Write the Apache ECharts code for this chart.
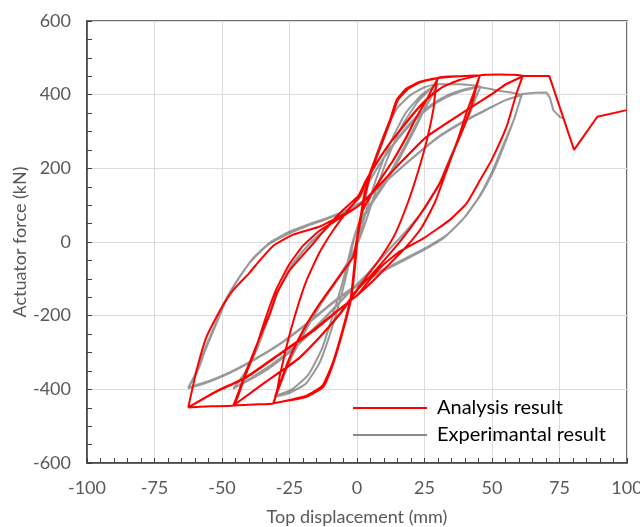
<!DOCTYPE html>
<html>
<head>
<meta charset="utf-8">
<script src="https://cdn.jsdelivr.net/npm/echarts@6/dist/echarts.min.js"></script>
<style>html,body{margin:0;padding:0;background:#fff}#c{width:640px;height:527px}</style>
</head>
<body>
<div id="c"></div>
<script>
// ---- axis ticks ----
const xTicks = [-100, -75, -50, -25, 0, 25, 50, 75, 100];
const yTicks = [-600, -400, -200, 0, 200, 400, 600];

// ---- Analysis result (red) branches [displacement mm, force kN] ----
const anaSkel30 = [[0,0],[1,50],[2.3,114],[4.8,187],[8.5,259],[12.2,331],[14.7,386],[18.4,417],[23.3,435],[30,445]];
const anaDown30a = [[30,445],[28.3,422],[25.8,386],[22.1,340],[18.4,286],[13.5,223],[8.5,168],[4.8,123],[1.7,78],[0.3,20],[-0.4,-40],[-2,-148],[-5.1,-239],[-8.8,-330],[-12.5,-393],[-18.6,-420],[-25,-430],[-31,-438]];
const anaUp30a = [[-31,-438],[-28.5,-383],[-24.8,-311],[-19.9,-239],[-13.7,-166],[-7.5,-103],[-1.4,-40],[0.2,20],[1.2,60],[2.5,114],[5,187],[8.7,259],[12.4,331],[15,384],[18.8,415],[23.6,434],[30,445]];
const anaDown30b = [[30,445],[28,418],[25.5,382],[21.8,336],[18,282],[13.2,220],[8.2,165],[4.5,120],[1.5,75],[0,10],[-0.8,-50],[-2.3,-150],[-5.4,-240],[-9.1,-330],[-12.8,-390],[-18.9,-418],[-25,-429],[-31,-438]];
const anaUp30b = [[-31,-438],[-28.2,-380],[-24.5,-308],[-19.6,-236],[-13.4,-163],[-7.2,-100],[-1.1,-37],[0.4,20],[1.4,62],[2.7,116],[5.2,189],[8.9,261],[12.6,333],[15.2,386],[19,416],[23.8,435],[30,445]];
const anaEnv46 = [[30,445],[38,450],[45.8,453]];
const anaDown46a = [[45.8,453],[38.1,440],[32,422],[27,395],[22.1,358],[17.1,313],[12.2,268],[7.3,214],[3.6,168],[1,125],[-4,80],[-9,30],[-14,-30],[-19,-110],[-23,-200],[-26,-280],[-28.5,-360],[-31,-438],[-38,-441],[-45.8,-444]];
const anaUp46a = [[-45.8,-444],[-34.7,-384],[-22.3,-320],[-13.7,-257],[-6.3,-194],[-0.1,-130],[4,-90],[9,-40],[14,20],[19,110],[23,200],[26,280],[28.3,360],[30,445],[38,450],[45.8,453]];
const anaDown46b = [[45.8,453],[37.6,439],[31.5,420],[26.5,392],[21.6,355],[16.6,310],[11.7,264],[6.8,210],[3.1,164],[0.5,125],[-5,88],[-10,50],[-16.2,-4],[-24.8,-76],[-29.7,-139],[-32.2,-194],[-35.9,-257],[-40.9,-348],[-43.5,-400],[-45.8,-444]];
const anaUp46b = [[-45.8,-444],[-34.2,-382],[-21.8,-318],[-13.2,-254],[-5.8,-191],[0.4,-128],[5,-92],[10,-50],[16.2,4],[22,60],[26.5,110],[30.7,160],[34.4,223],[38.1,286],[41.9,358],[44.3,422],[45.8,453]];
const anaEnv62 = [[45.8,453],[53,455],[61.4,451]];
const anaDown62a = [[61.4,451],[55,428],[50.5,404],[40.6,358],[25.8,286],[13.5,195],[5,130],[0,95],[-7,62],[-14,30],[-20,-10],[-25,-60],[-30,-130],[-34,-210],[-38,-300],[-42,-375],[-45.8,-444],[-54,-446],[-62.5,-449]];
const anaUp62a = [[-62.5,-449],[-52,-405],[-40.9,-366],[-28,-300],[-16.2,-239],[-7,-185],[0,-145],[6,-105],[12,-60],[18,-15],[24,40],[29,110],[33,190],[37,270],[40.5,350],[43.5,410],[45.8,453],[53,455],[61.4,451]];
const anaDown62b = [[61.4,451],[55,427],[50,402],[40,355],[25.5,284],[13.2,193],[5,128],[0,95],[-5,75],[-13.7,42],[-23.6,20],[-31,-10],[-36,-50],[-40,-85],[-45.8,-130],[-50.7,-185],[-55.7,-257],[-59.4,-348],[-62.5,-449]];
const anaUp62b = [[-62.5,-449],[-52,-406],[-41,-368],[-28,-302],[-16,-241],[-7,-186],[0,-145],[5,-100],[10,-60],[16,-25],[24.6,10],[34.4,60],[40.6,105],[45.6,168],[50,225],[55.4,313],[59.1,404],[61.4,451]];
const anaPost = [[61.4,451],[71.2,451],[80.4,250],[89,340],[99.9,358]];

// ---- Experimental result (grey) branches ----
const expSkel30 = [[0,0],[2,80],[4,150],[7,230],[11,310],[15,365],[20,400],[25,420],[30,430]];
const expDown30a = [[30,430],[28,400],[25,360],[21,300],[16,230],[11,165],[6,110],[2,60],[-1,10],[-3,-60],[-6,-150],[-10,-250],[-14,-330],[-19,-385],[-25,-410],[-30.4,-420]];
const expUp30a = [[-30.4,-420],[-28,-380],[-24,-310],[-19,-240],[-13,-165],[-7,-100],[-2,-40],[1,20],[4,100],[8,190],[13,280],[18,350],[24,400],[30,430]];
const expDown30b = [[30,428],[27,390],[23,335],[18,265],[12,185],[6,115],[1,55],[-2,-10],[-5,-100],[-9,-200],[-13,-290],[-18,-360],[-24,-400],[-30.4,-418]];
const expUp30b = [[-30.4,-418],[-27,-360],[-23,-290],[-18,-220],[-12,-150],[-6,-85],[-1,-25],[3,50],[7,140],[12,240],[17,320],[23,385],[30,428]];
const expEnv46 = [[30,428],[38,428],[45.8,422]];
const expDown46a = [[45.8,422],[40,415],[34,400],[28,375],[22,340],[16,290],[10,230],[5,170],[1,120],[-4,85],[-10,45],[-17,0],[-24,-60],[-29,-130],[-33,-210],[-37,-290],[-41,-350],[-45.8,-397]];
const expUp46a = [[-45.8,-397],[-40,-375],[-33,-345],[-25,-300],[-17,-245],[-9,-185],[-2,-130],[4,-85],[10,-35],[17,20],[24,80],[30,150],[34,220],[38,290],[42,360],[45.8,422]];
const expDown46b = [[45.8,420],[39,410],[33,393],[27,366],[21,328],[15,278],[9,218],[4,160],[0,112],[-5,78],[-11,38],[-18,-8],[-25,-72],[-30,-145],[-34,-225],[-38,-305],[-42,-360],[-45.8,-398]];
const expUp46b = [[-45.8,-398],[-39,-368],[-32,-335],[-24,-290],[-16,-235],[-8,-175],[-1,-122],[5,-78],[11,-28],[18,28],[25,90],[31,162],[35,232],[39,302],[43,370],[45.8,420]];
const expEnv62 = [[45.8,420],[53,410],[61,400]];
const expDown62a = [[61,400],[55,385],[48,360],[40,330],[30,285],[20,225],[10,160],[3,115],[-3,90],[-10,68],[-18,48],[-25,28],[-32,0],[-38,-40],[-43,-90],[-48,-150],[-52,-220],[-56,-290],[-59,-350],[-62.5,-397]];
const expUp62a = [[-62.5,-397],[-55,-380],[-47,-355],[-38,-320],[-28,-275],[-18,-220],[-8,-160],[0,-120],[8,-85],[16,-55],[24,-25],[32,10],[39,60],[45,120],[50,190],[54,260],[58,330],[61,400]];
const expDown62b = [[61,402],[54,382],[47,355],[39,324],[29,278],[19,218],[9,154],[2,110],[-4,85],[-11,63],[-19,42],[-26,20],[-33,-8],[-39,-50],[-44,-100],[-49,-162],[-53,-232],[-57,-302],[-60,-360],[-62.5,-395]];
const expUp62b = [[-62.5,-395],[-54,-375],[-46,-350],[-37,-314],[-27,-268],[-17,-212],[-7,-152],[1,-112],[9,-78],[17,-48],[25,-18],[33,18],[40,68],[46,130],[51,200],[55,272],[58.5,340],[61,402]];
const expPost = [[61,402],[66,405],[70.2,406],[71.5,390],[72.7,358],[75.2,339],[76.4,336]];

const analysisBranches = [anaSkel30, anaDown30a, anaUp30a, anaDown30b, anaUp30b, anaEnv46, anaDown46a, anaUp46a, anaDown46b, anaUp46b, anaEnv62, anaDown62a, anaUp62a, anaDown62b, anaUp62b];
const experimentBranches = [expSkel30, expDown30a, expUp30a, expDown30b, expUp30b, expEnv46, expDown46a, expUp46a, expDown46b, expUp46b, expEnv62, expDown62a, expUp62a, expDown62b, expUp62b];

function chain(branches) {
  const out = [];
  branches.forEach(function (b, i) {
    b.forEach(function (p, j) {
      if (i > 0 && j === 0) return;
      out.push(p);
    });
  });
  return out;
}

const FONT = 'Lato';
const labelColor = '#595959';
const redLine = { color: '#ff0000', width: 2 };
const greyLine = { color: 'rgba(70,70,70,0.55)', width: 2 };
const chart = echarts.init(document.getElementById('c'), null, { renderer: 'canvas' });
chart.setOption({
  backgroundColor: '#fff',
  animation: false,
  grid: { left: 87, right: 13, top: 21, bottom: 64, show: true, borderColor: '#404040', borderWidth: 1.5, containLabel: false, outerBoundsMode: 'none' },
  legend: {
    data: ['Analysis result', 'Experimantal result'],
    orient: 'vertical',
    left: 353, top: 398, padding: 0,
    icon: 'rect', itemWidth: 74, itemHeight: 2, itemGap: 7,
    textStyle: { fontFamily: FONT, fontSize: 20, color: '#000', padding: [0, 0, 0, 5] }
  },
  xAxis: {
    type: 'value', min: xTicks[0], max: xTicks[xTicks.length - 1], interval: 25,
    name: 'Top displacement (mm)', nameLocation: 'middle', nameGap: 45,
    nameTextStyle: { fontFamily: FONT, fontSize: 18, color: labelColor },
    axisLine: { show: true, onZero: false, lineStyle: { color: '#404040', width: 1.5 } },
    axisTick: { show: true, inside: true, length: 5, lineStyle: { color: '#404040' } },
    minorTick: { show: true, splitNumber: 5, length: 5, lineStyle: { color: '#404040' } },
    axisLabel: { fontFamily: FONT, fontSize: 18, color: labelColor, margin: 16 },
    splitLine: { show: true, lineStyle: { color: '#dcdcdc', width: 1 } }
  },
  yAxis: {
    type: 'value', min: yTicks[0], max: yTicks[yTicks.length - 1], interval: 200,
    name: 'Actuator force (kN)', nameLocation: 'middle', nameGap: 58, nameMoveOverlap: false,
    nameTextStyle: { fontFamily: FONT, fontSize: 18, color: labelColor },
    axisLine: { show: true, onZero: false, lineStyle: { color: '#404040', width: 1.5 } },
    axisTick: { show: true, inside: true, length: 5, lineStyle: { color: '#404040' } },
    minorTick: { show: true, splitNumber: 4, length: 5, lineStyle: { color: '#404040' } },
    axisLabel: { fontFamily: FONT, fontSize: 18, color: labelColor, margin: 16 },
    splitLine: { show: true, lineStyle: { color: '#dcdcdc', width: 1 } }
  },
  series: [
    {
      name: 'Experimantal result', type: 'line', data: chain(experimentBranches),
      showSymbol: false, symbol: 'none', smooth: 0.15,
      lineStyle: greyLine, itemStyle: { color: '#8a8a8a' }, z: 2
    },
    {
      name: 'Experimantal result', type: 'line', data: expPost,
      showSymbol: false, symbol: 'none', smooth: false,
      lineStyle: greyLine, itemStyle: { color: '#8a8a8a' }, z: 2
    },
    {
      name: 'Analysis result', type: 'line', data: chain(analysisBranches),
      showSymbol: false, symbol: 'none', smooth: 0.15,
      lineStyle: redLine, itemStyle: { color: '#ff0000' }, z: 3
    },
    {
      name: 'Analysis result', type: 'line', data: anaPost,
      showSymbol: false, symbol: 'none', smooth: false,
      lineStyle: redLine, itemStyle: { color: '#ff0000' }, z: 3
    }
  ]
});
</script>
</body>
</html>
